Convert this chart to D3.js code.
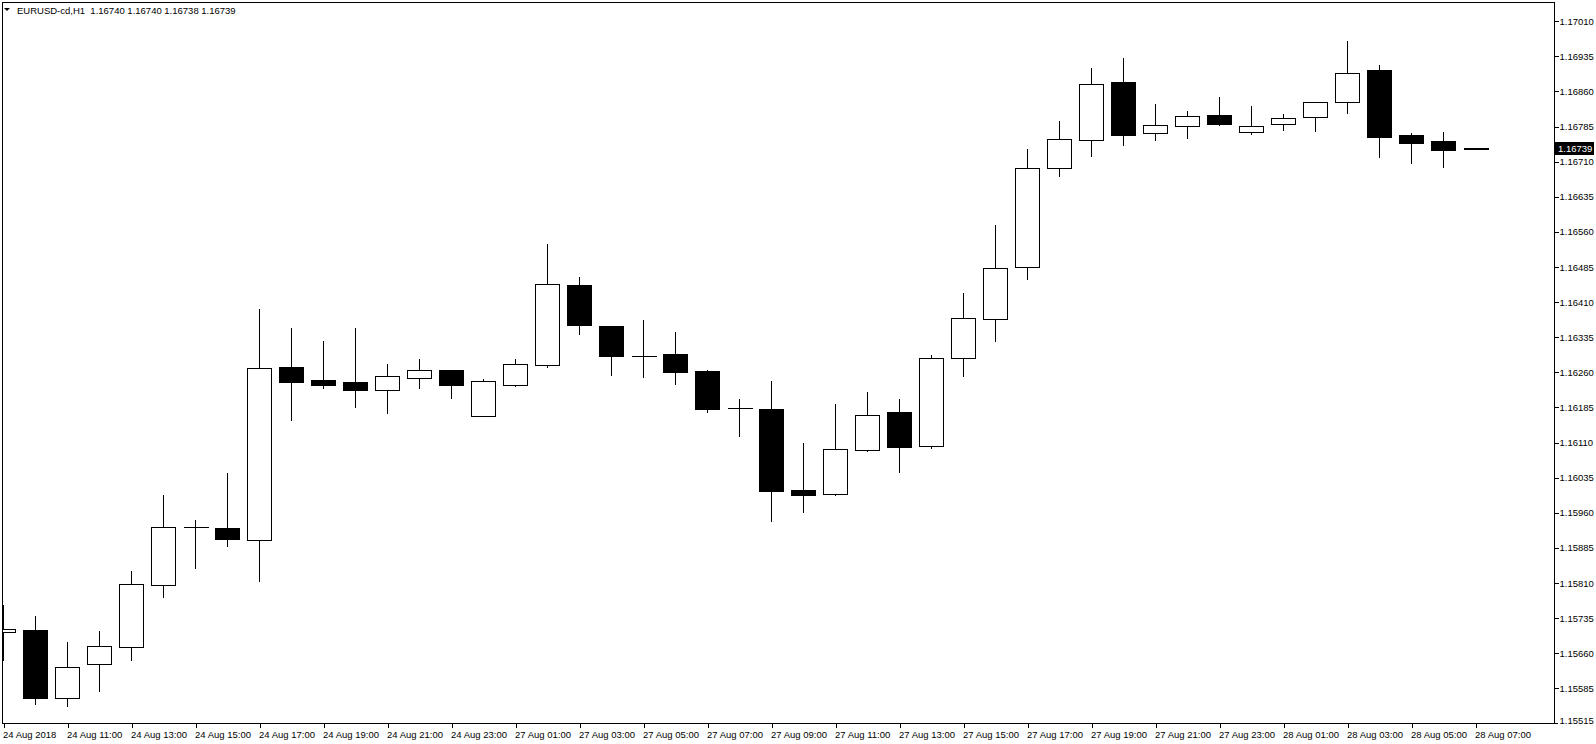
<!DOCTYPE html>
<html>
<head>
<meta charset="utf-8">
<script src="https://cdnjs.cloudflare.com/ajax/libs/d3/7.8.5/d3.min.js"></script>
<style>
  html, body { margin: 0; padding: 0; background: #fff; }
  svg { display: block; }
  text { font-family: "Liberation Sans", Arial, sans-serif; font-size: 9.5px; fill: #000; }
</style>
</head>
<body>
<div id="chart"></div>
<script>
// symbol / header
const symbolName = "EURUSD-cd,H1";
const lastOHLC = [1.16740, 1.16740, 1.16738, 1.16739];

// bar times (H1), 24 Aug 09:00 .. 28 Aug 07:00
const times = [
  "24 Aug 09:00","24 Aug 10:00","24 Aug 11:00","24 Aug 12:00","24 Aug 13:00","24 Aug 14:00",
  "24 Aug 15:00","24 Aug 16:00","24 Aug 17:00","24 Aug 18:00","24 Aug 19:00","24 Aug 20:00",
  "24 Aug 21:00","24 Aug 22:00","24 Aug 23:00",
  "27 Aug 00:00","27 Aug 01:00","27 Aug 02:00","27 Aug 03:00","27 Aug 04:00","27 Aug 05:00",
  "27 Aug 06:00","27 Aug 07:00","27 Aug 08:00","27 Aug 09:00","27 Aug 10:00","27 Aug 11:00",
  "27 Aug 12:00","27 Aug 13:00","27 Aug 14:00","27 Aug 15:00","27 Aug 16:00","27 Aug 17:00",
  "27 Aug 18:00","27 Aug 19:00","27 Aug 20:00","27 Aug 21:00","27 Aug 22:00","27 Aug 23:00",
  "28 Aug 00:00","28 Aug 01:00","28 Aug 02:00","28 Aug 03:00","28 Aug 04:00","28 Aug 05:00",
  "28 Aug 06:00","28 Aug 07:00"
];

const open = [
  1.15705,1.15709,1.15564,1.15636,1.15673,1.15805,1.15929,1.15927,1.15901,1.16271,
  1.16244,1.16239,1.16222,1.16249,1.16264,1.16167,1.16232,1.16275,1.16446,1.16358,
  1.16294,1.16299,1.16262,1.16183,1.16181,1.16008,1.16000,1.16094,1.16175,1.16102,
  1.16290,1.16373,1.16484,1.16696,1.16756,1.16880,1.16771,1.16786,1.16809,1.16773,
  1.16790,1.16805,1.16837,1.16905,1.16766,1.16754,1.16740
];
const high = [
  1.15763,1.15740,1.15684,1.15708,1.15836,1.15998,1.15944,1.16045,1.16395,1.16355,
  1.16327,1.16355,1.16278,1.16289,1.16265,1.16246,1.16289,1.16534,1.16464,1.16360,
  1.16372,1.16346,1.16265,1.16203,1.16242,1.16109,1.16193,1.16218,1.16203,1.16297,
  1.16429,1.16575,1.16737,1.16797,1.16910,1.16932,1.16833,1.16818,1.16848,1.16828,
  1.16811,1.16838,1.16967,1.16916,1.16771,1.16773,1.16740
];
const low = [
  1.15646,1.15552,1.15548,1.15580,1.15646,1.15781,1.15843,1.15890,1.15815,1.16159,
  1.16227,1.16185,1.16174,1.16227,1.16206,1.16166,1.16230,1.16271,1.16341,1.16255,
  1.16251,1.16236,1.16176,1.16125,1.15943,1.15962,1.15997,1.16091,1.16048,1.16099,
  1.16253,1.16326,1.16460,1.16680,1.16723,1.16746,1.16757,1.16761,1.16789,1.16770,
  1.16778,1.16776,1.16815,1.16721,1.16708,1.16699,1.16738
];
const close = [
  1.15712,1.15565,1.15630,1.15675,1.15807,1.15929,1.15929,1.15903,1.16269,1.16240,
  1.16234,1.16223,1.16252,1.16264,1.16234,1.16241,1.16277,1.16448,1.16362,1.16294,
  1.16294,1.16261,1.16182,1.16183,1.16007,1.15997,1.16096,1.16168,1.16101,1.16291,
  1.16376,1.16482,1.16696,1.16758,1.16877,1.16768,1.16788,1.16807,1.16791,1.16786,
  1.16803,1.16837,1.16899,1.16763,1.16751,1.16736,1.16739
];

// price scale labels
const priceTicks = [
  1.17010,1.16935,1.16860,1.16785,1.16710,1.16635,1.16560,1.16485,1.16410,1.16335,
  1.16260,1.16185,1.16110,1.16035,1.15960,1.15885,1.15810,1.15735,1.15660,1.15585
];
const bottomPriceLabel = 1.15515;

// time axis labels: every 2nd bar, first one shows the year
const timeTickLabels = times.map((t, i) => i === 0 ? "24 Aug 2018" : t);

const width = 1596, height = 744;
const plot = { left: 2, top: 2, right: 1554, bottom: 723 };
const bodyHalf = 12;

const svg = d3.select("#chart").append("svg")
  .attr("width", width)
  .attr("height", height)
  .style("shape-rendering", "crispEdges");

const x = d3.scalePoint()
  .domain(times)
  .range([3, 1475]);

const y = d3.scaleLinear()
  .domain([1.15511, 1.17049])
  .range([plot.bottom, 3]);

const bars = times.map((t, i) => ({ t, o: open[i], h: high[i], l: low[i], c: close[i] }));

svg.append("clipPath").attr("id", "plotClip")
  .append("rect")
  .attr("x", plot.left + 1).attr("y", plot.top + 1)
  .attr("width", plot.right - plot.left - 1)
  .attr("height", plot.bottom - plot.top - 1);

const g = svg.append("g").attr("clip-path", "url(#plotClip)");

const px = v => Math.round(v) + 0.5;

// wicks
g.selectAll("line.wick")
  .data(bars)
  .enter().append("line")
  .attr("class", "wick")
  .attr("x1", d => px(x(d.t)))
  .attr("x2", d => px(x(d.t)))
  .attr("y1", d => Math.round(y(d.h)))
  .attr("y2", d => Math.round(y(d.l)) + 1)
  .attr("stroke", "#000")
  .attr("stroke-width", 1);

// bodies (doji drawn as a flat line)
const bodyBars = bars.filter(d => Math.round(y(d.o)) !== Math.round(y(d.c)));
const dojiBars = bars.filter(d => Math.round(y(d.o)) === Math.round(y(d.c)));

g.selectAll("rect.body")
  .data(bodyBars)
  .enter().append("rect")
  .attr("class", "body")
  .attr("x", d => px(x(d.t)) - bodyHalf)
  .attr("width", bodyHalf * 2)
  .attr("y", d => Math.round(y(Math.max(d.o, d.c))) + 0.5)
  .attr("height", d => Math.round(y(Math.min(d.o, d.c))) - Math.round(y(Math.max(d.o, d.c))))
  .attr("fill", d => d.c >= d.o ? "#fff" : "#000")
  .attr("stroke", "#000")
  .attr("stroke-width", 1);

g.selectAll("line.doji")
  .data(dojiBars)
  .enter().append("line")
  .attr("class", "doji")
  .attr("x1", d => px(x(d.t)) - bodyHalf)
  .attr("x2", d => px(x(d.t)) + bodyHalf + 1)
  .attr("y1", d => px(y(d.c)))
  .attr("y2", d => px(y(d.c)))
  .attr("stroke", "#000")
  .attr("stroke-width", d => d.t === times[times.length - 1] ? 2 : 1);

// frame
svg.append("rect")
  .attr("x", plot.left + 0.5).attr("y", plot.top + 0.5)
  .attr("width", plot.right - plot.left)
  .attr("height", plot.bottom - plot.top)
  .attr("fill", "none")
  .attr("stroke", "#000");

// right price axis
const yAxis = d3.axisRight(y)
  .tickValues(priceTicks)
  .tickSize(4)
  .tickPadding(1)
  .tickFormat(d3.format(".5f"));

const yAxisG = svg.append("g")
  .attr("transform", `translate(${plot.right + 0.5},0)`)
  .call(yAxis);
yAxisG.select(".domain").remove();
yAxisG.selectAll(".tick text").attr("font-family", null).attr("font-size", null);

// bottom price label (chart minimum)
svg.append("line")
  .attr("x1", plot.right).attr("x2", plot.right + 4)
  .attr("y1", plot.bottom + 0.5).attr("y2", plot.bottom + 0.5)
  .attr("stroke", "#000");
svg.append("text")
  .attr("x", plot.right + 5.5)
  .attr("y", plot.bottom - 2)
  .attr("dy", "0.32em")
  .text(d3.format(".5f")(bottomPriceLabel));

// last price marker
const lastY = Math.round(y(close[close.length - 1]));
svg.append("rect")
  .attr("x", plot.right).attr("y", lastY - 6)
  .attr("width", 40).attr("height", 13)
  .attr("fill", "#000");
svg.append("text")
  .attr("x", plot.right + 4)
  .attr("y", lastY + 0.5)
  .attr("dy", "0.35em")
  .style("fill", "#fff")
  .text(d3.format(".5f")(close[close.length - 1]));

// bottom time axis
const timeTickIdx = times.map((t, i) => i).filter(i => i % 2 === 0);
const xAxis = d3.axisBottom(x)
  .tickValues(timeTickIdx.map(i => times[i]))
  .tickSize(4)
  .tickPadding(4)
  .tickFormat((d, i) => timeTickLabels[timeTickIdx[i]]);

const xAxisG = svg.append("g")
  .attr("transform", `translate(0.5,${plot.bottom + 0.5})`)
  .call(xAxis);
xAxisG.select(".domain").remove();
xAxisG.selectAll(".tick text")
  .attr("font-family", null).attr("font-size", "10px")
  .attr("text-anchor", "start")
  .attr("x", -1);

// header
svg.append("path")
  .attr("d", "M4,8 L10,8 L7,11 Z")
  .attr("fill", "#000")
  .style("shape-rendering", "auto");
svg.append("text")
  .attr("x", 17)
  .attr("y", 14)
  .text(symbolName + "  " + lastOHLC.map(d3.format(".5f")).join(" "))
  .attr("xml:space", "preserve")
  .style("white-space", "pre");
</script>
</body>
</html>
